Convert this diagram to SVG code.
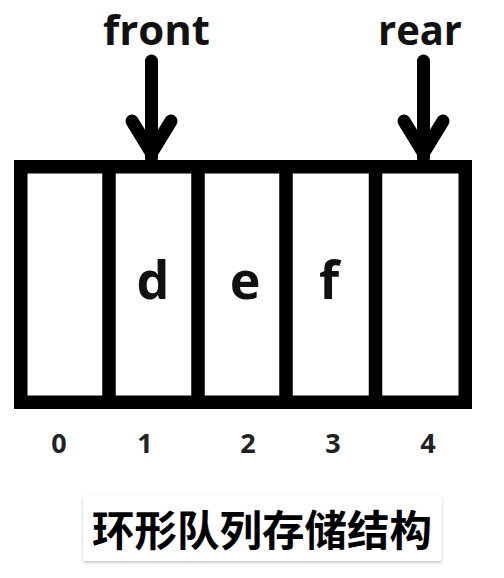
<svg xmlns="http://www.w3.org/2000/svg" width="504" height="578" viewBox="0 0 504 578">
  <defs>
    <style>
      .lbl { font-family: "Open Sans", "Liberation Sans", sans-serif; font-weight: 700; fill: #111; }
      .idx { font-family: "Open Sans", "Liberation Sans", sans-serif; font-weight: 700; fill: #222; font-size: 27px; text-anchor: middle; }
      .cell { font-family: "Open Sans", "Liberation Sans", sans-serif; font-weight: 700; fill: #111; font-size: 52px; text-anchor: middle; }
      .cap { font-family: "Noto Sans CJK SC", "Noto Sans", sans-serif; font-weight: 700; fill: #000; font-size: 42px; }
      .arrow { fill: none; stroke: #000; stroke-width: 13; stroke-linecap: round; stroke-linejoin: miter; }
      .box { fill: #fff; stroke: #000; stroke-width: 13.5; }
    </style>
    <filter id="sh" x="-10%" y="-20%" width="120%" height="150%">
      <feDropShadow dx="0" dy="1.5" stdDeviation="1.5" flood-color="#000" flood-opacity="0.25"/>
    </filter>
  </defs>
  <rect width="504" height="578" fill="#fff"/>

  <g id="queue">
    <rect class="box" x="20.75" y="166.75" width="444.5" height="235.5"/>
    <g id="dividers" stroke="#000" stroke-width="13.5">
      <line x1="109" y1="167" x2="109" y2="402"/>
      <line x1="198" y1="167" x2="198" y2="402"/>
      <line x1="286" y1="167" x2="286" y2="402"/>
      <line x1="375.5" y1="167" x2="375.5" y2="402"/>
    </g>
  </g>

  <g id="cells">
    <text class="cell" x="153" y="299">d</text>
    <text class="cell" x="245" y="299">e</text>
    <text class="cell" x="329" y="299">f</text>
  </g>

  <g id="indices">
    <text class="idx" x="59" y="453">0</text>
    <text class="idx" x="145" y="453">1</text>
    <text class="idx" x="248" y="453">2</text>
    <text class="idx" x="333" y="453">3</text>
    <text class="idx" x="428" y="453">4</text>
  </g>

  <g id="front">
    <text class="lbl" x="103" y="45" font-size="42" textLength="107" lengthAdjust="spacingAndGlyphs">front</text>
  </g>
  <g id="rear">
    <text class="lbl" x="378" y="45" font-size="42" textLength="84" lengthAdjust="spacingAndGlyphs">rear</text>
  </g>

  <g id="connectors">
    <line class="arrow" x1="151.5" y1="61" x2="151.5" y2="158"/>
    <polyline class="arrow" points="132,121 151.5,153 171,121"/>
    <line class="arrow" x1="423.5" y1="61" x2="423.5" y2="158"/>
    <polyline class="arrow" points="404,121 423.5,153 443,121"/>
  </g>

  <g id="caption">
    <rect x="83" y="496" width="359" height="65" rx="3" fill="#fff" filter="url(#sh)"/>
    <text class="cap" x="92" y="546" textLength="340" lengthAdjust="spacingAndGlyphs">环形队列存储结构</text>
  </g>
</svg>
